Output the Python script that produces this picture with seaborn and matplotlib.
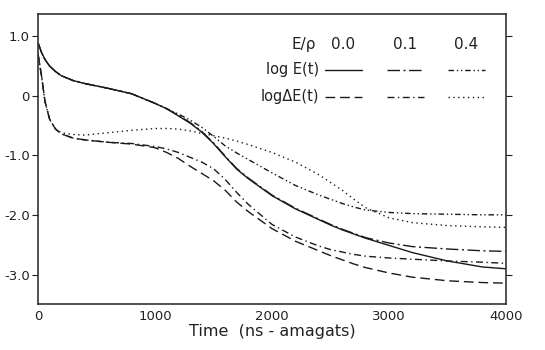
import numpy as np
import pandas as pd
import matplotlib
matplotlib.use("Agg")
import matplotlib.pyplot as plt
import seaborn as sns

# ── Data ─────────────────────────────────────────────────────────────────
TIME = [0, 30, 60, 100, 150, 200, 300, 400, 500, 600, 800, 1000, 1100, 1200,
        1300, 1400, 1500, 1600, 1700, 1800, 2000, 2200, 2400, 2500, 2600,
        2700, 2800, 3000, 3200, 3500, 3800, 4000]

LOG_E_00 = [0.88, 0.72, 0.60, 0.49, 0.40, 0.33, 0.25, 0.20, 0.16, 0.12, 0.03,
            -0.13, -0.22, -0.34, -0.46, -0.61, -0.80, -1.02, -1.23, -1.39,
            -1.67, -1.89, -2.07, -2.16, -2.24, -2.31, -2.38, -2.50, -2.62,
            -2.76, -2.86, -2.89]
LOG_E_01 = [0.88, 0.72, 0.60, 0.49, 0.40, 0.33, 0.25, 0.20, 0.16, 0.12, 0.03,
            -0.13, -0.22, -0.33, -0.45, -0.60, -0.79, -1.01, -1.22, -1.38,
            -1.66, -1.88, -2.06, -2.15, -2.23, -2.30, -2.37, -2.46, -2.52,
            -2.56, -2.59, -2.60]
LOG_E_04 = [0.88, 0.72, 0.60, 0.49, 0.40, 0.33, 0.25, 0.20, 0.16, 0.12, 0.03,
            -0.13, -0.22, -0.31, -0.41, -0.53, -0.68, -0.84, -0.96, -1.07,
            -1.29, -1.50, -1.66, -1.73, -1.80, -1.86, -1.91, -1.95, -1.97,
            -1.98, -1.99, -1.99]
LOG_DE_00 = [0.70, 0.33, -0.10, -0.40, -0.56, -0.64, -0.71, -0.74, -0.76,
             -0.78, -0.81, -0.87, -0.95, -1.05, -1.18, -1.30, -1.42, -1.58,
             -1.78, -1.94, -2.22, -2.43, -2.59, -2.67, -2.74, -2.81, -2.87,
             -2.96, -3.03, -3.09, -3.12, -3.13]
LOG_DE_01 = [0.70, 0.33, -0.10, -0.40, -0.56, -0.64, -0.71, -0.74, -0.76,
             -0.78, -0.80, -0.85, -0.89, -0.95, -1.03, -1.11, -1.22, -1.40,
             -1.62, -1.82, -2.15, -2.36, -2.51, -2.57, -2.61, -2.65, -2.68,
             -2.71, -2.73, -2.76, -2.78, -2.80]
LOG_DE_04 = [0.70, 0.33, -0.10, -0.40, -0.56, -0.62, -0.65, -0.66, -0.64,
             -0.62, -0.58, -0.55, -0.55, -0.56, -0.59, -0.63, -0.67, -0.71,
             -0.76, -0.82, -0.95, -1.11, -1.32, -1.45, -1.58, -1.73, -1.87,
             -2.04, -2.12, -2.17, -2.19, -2.20]

FIELD_LABELS = ["0.0", "0.1", "0.4"]
ROW_LABELS = ["log E(t)", "log\u0394E(t)"]
X_TICKS = [0, 1000, 2000, 3000, 4000]
Y_TICKS = [1.0, 0.0, -1.0, -2.0, -3.0]
Y_TICK_LABELS = ["1.0", "0", "-1.0", "-2.0", "-3.0"]

# ── Style ────────────────────────────────────────────────────────────────
DASHES = {
    "E 0.0": "",
    "E 0.1": (9, 2.5, 1.5, 2.5),
    "E 0.4": (4, 2, 1, 2, 1, 2),
    "dE 0.0": (7, 3.5),
    "dE 0.1": (5, 2.5, 1, 2.5),
    "dE 0.4": (1, 2.5),
}

series = {
    "E 0.0": LOG_E_00, "E 0.1": LOG_E_01, "E 0.4": LOG_E_04,
    "dE 0.0": LOG_DE_00, "dE 0.1": LOG_DE_01, "dE 0.4": LOG_DE_04,
}
df = pd.concat(
    [pd.DataFrame({"t": TIME, "v": vals, "curve": name}) for name, vals in series.items()],
    ignore_index=True,
)

sns.set_style("ticks")
plt.rcParams["font.family"] = ["DejaVu Sans"]

fig = plt.figure(figsize=(5.45, 3.5), dpi=100)
ax = fig.add_axes([0.0697, 0.131, 0.8587, 0.829])

sns.lineplot(
    data=df, x="t", y="v", style="curve", dashes=DASHES,
    color="#1a1a1a", linewidth=1.0, legend=False, ax=ax, sort=False,
)

ax.set_xlim(0, 4000)
ax.set_ylim(-3.48, 1.36)
ax.set_xticks(X_TICKS)
ax.set_yticks(Y_TICKS)
ax.set_yticklabels(Y_TICK_LABELS)
ax.tick_params(axis="x", length=0, pad=4, labelsize=9.5, colors="#222222")
ax.tick_params(axis="y", direction="out", length=4, pad=2, labelsize=9.5,
               colors="#222222", right=True)
for s in ax.spines.values():
    s.set_linewidth(1.2)
    s.set_color("#333333")
ax.set_xlabel("Time  (ns - amagats)", fontsize=11.5, color="#222222", labelpad=1)
ax.set_ylabel("")

# ── Hand-drawn key, like the original ────────────────────────────────────
tr = ax.transAxes
ax.text(0.595, 0.895, "E/\u03c1", transform=tr, ha="right", va="center",
        fontsize=11, color="#222222")
col_x = [0.652, 0.784, 0.915]
for x, lab in zip(col_x, FIELD_LABELS):
    ax.text(x, 0.895, lab, transform=tr, ha="center", va="center",
            fontsize=11, color="#222222")
row_y = [0.807, 0.714]
for y, lab in zip(row_y, ROW_LABELS):
    ax.text(0.600, y, lab, transform=tr, ha="right", va="center",
            fontsize=10.5, color="#222222")
keys = [["E 0.0", "E 0.1", "E 0.4"], ["dE 0.0", "dE 0.1", "dE 0.4"]]
for y, row in zip(row_y, keys):
    for x, name in zip(col_x, row):
        d = DASHES[name]
        line, = ax.plot([x - 0.038, x + 0.040], [y, y], transform=tr,
                        color="#1a1a1a", linewidth=1.0)
        if d:
            line.set_dashes(d)

fig.savefig("out.png", dpi=100)
